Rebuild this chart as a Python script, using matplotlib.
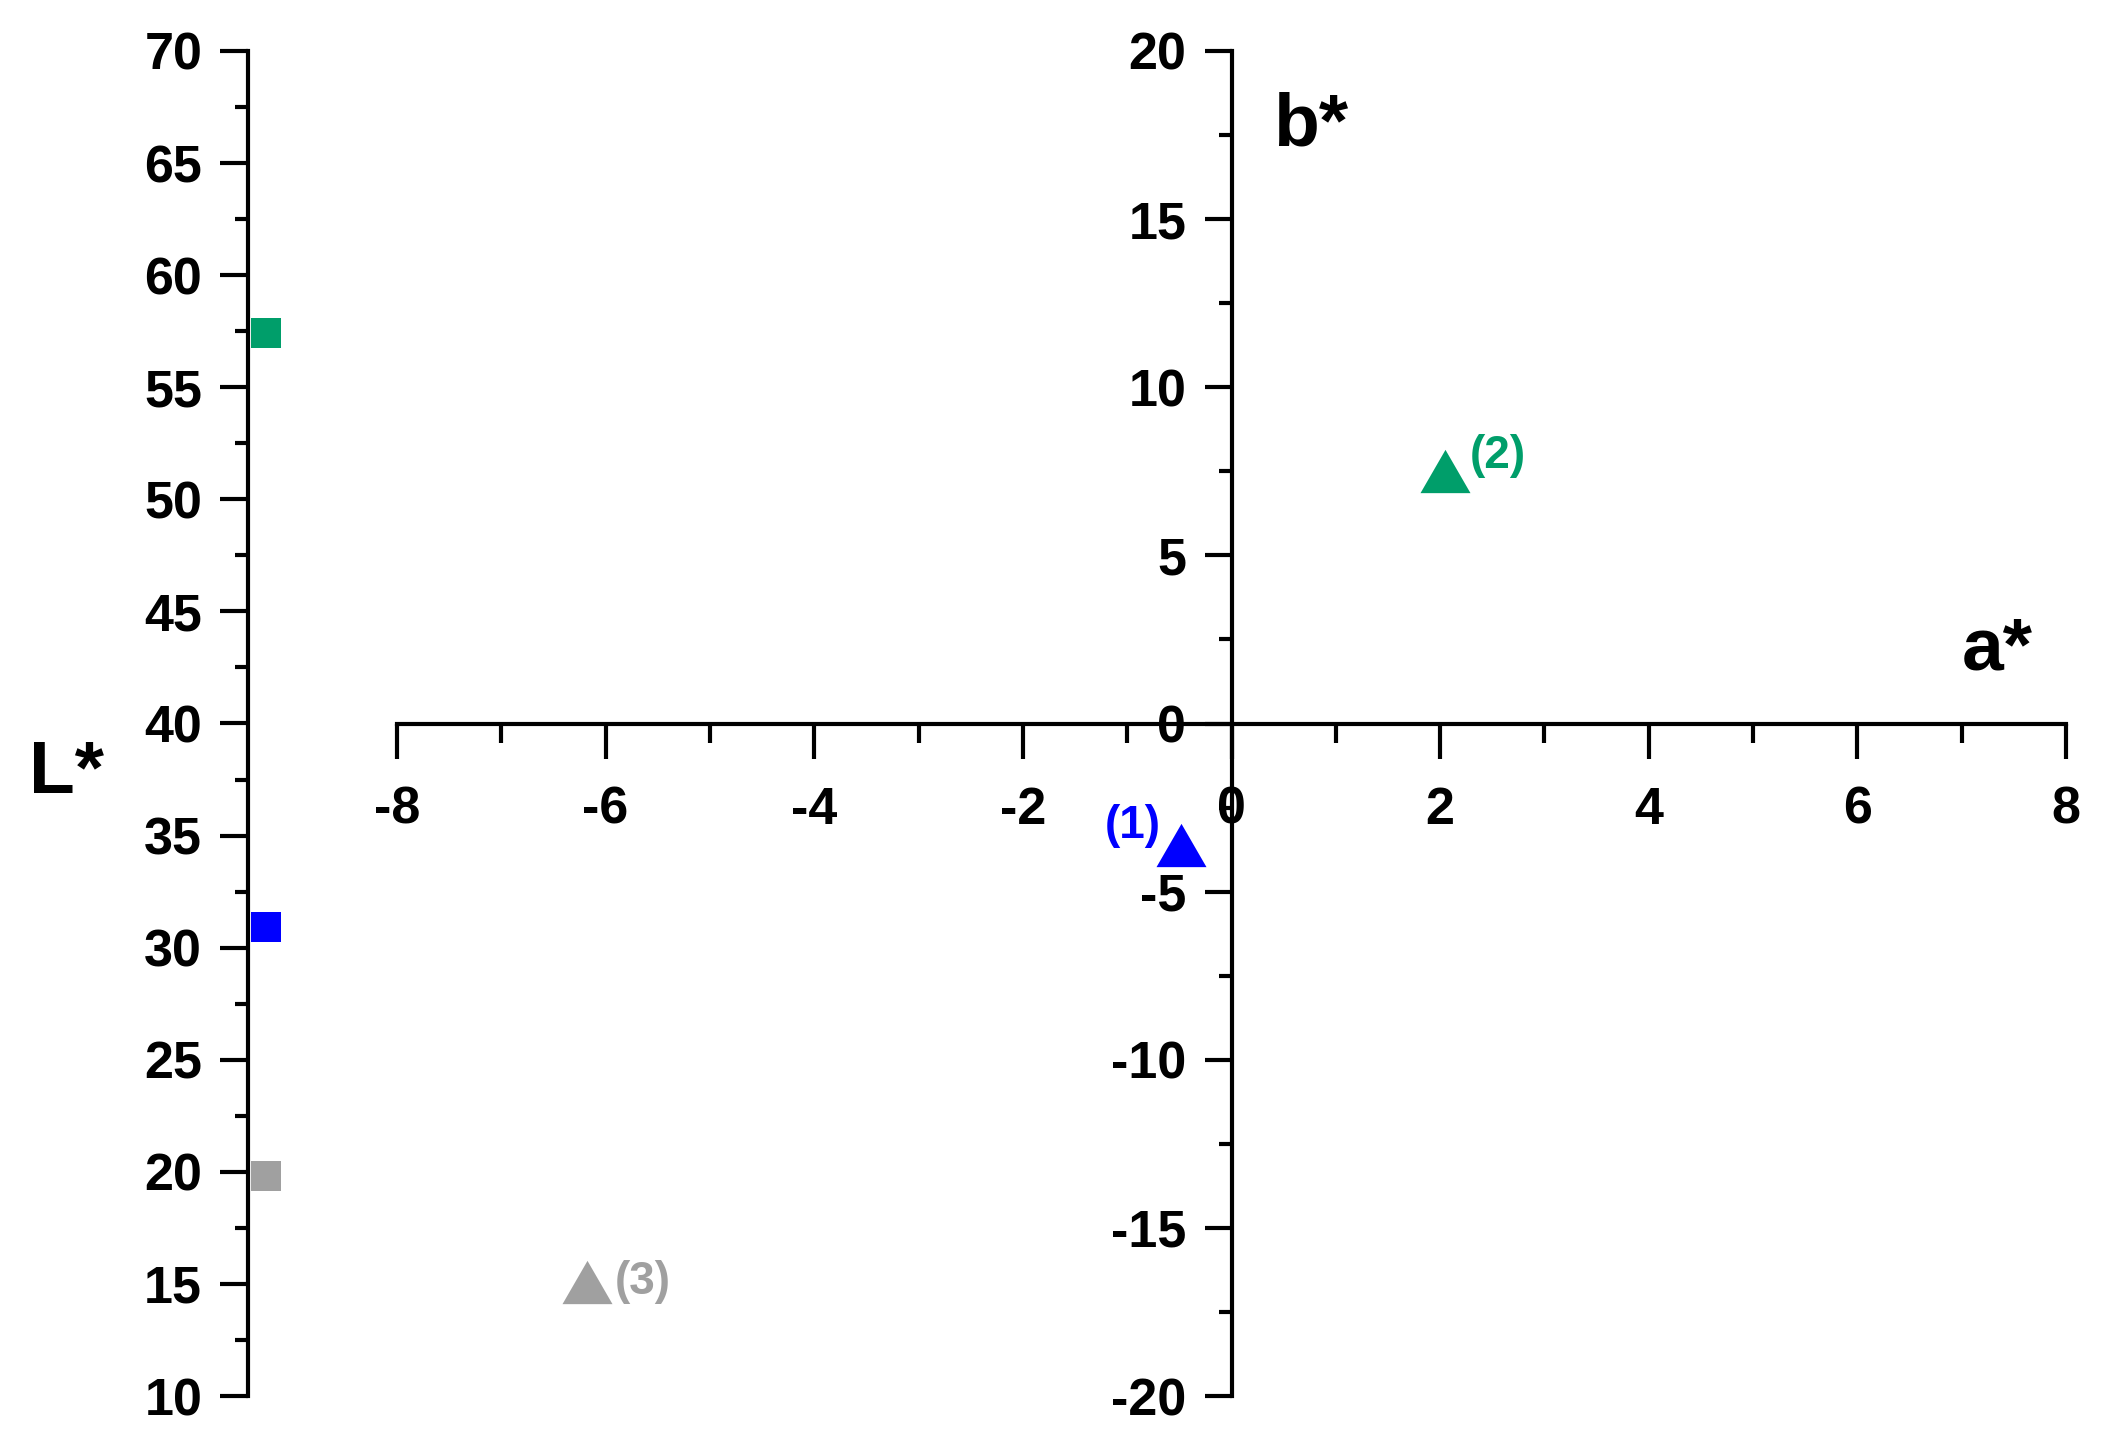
import numpy as np
import matplotlib
matplotlib.use('Agg')
import matplotlib.pyplot as plt
from matplotlib.ticker import MultipleLocator

plt.rcParams.update({'font.family': ['Liberation Sans', 'DejaVu Sans'],
                     'font.weight': 'bold',
                     'axes.unicode_minus': False})

# CIELAB values for the three samples
sample_labels = ['(1)', '(2)', '(3)']
sample_colors = ['#0000FF', '#009E6A', '#A0A0A0']
L_values = [30.9, 57.4, 19.8]
a_values = [-0.48, 2.05, -6.18]
b_values = [-3.6, 7.5, -16.6]

W, H, DPI = 2102, 1444, 100
fig = plt.figure(figsize=(W / DPI, H / DPI), dpi=DPI)

def px_axes(x0, y0, x1, y1):
    # pixel box (top-left origin) -> figure fraction
    return [x0 / W, 1 - y1 / H, (x1 - x0) / W, (y1 - y0) / H]

lw = 3.0
tri = [(-0.5, -0.433), (0.5, -0.433), (0, 0.433)]

# ---- L* strip ----
axL = fig.add_axes(px_axes(248, 51, 308, 1396))
for s in ['top', 'right', 'bottom']:
    axL.spines[s].set_visible(False)
axL.spines['left'].set_linewidth(lw)
axL.set_xlim(0, 1)
axL.set_ylim(10, 70)
axL.set_xticks([])
axL.yaxis.set_major_locator(MultipleLocator(5))
axL.yaxis.set_minor_locator(MultipleLocator(2.5))
axL.tick_params(axis='y', which='major', direction='out', length=20, width=lw,
                labelsize=37.5, pad=13)
axL.tick_params(axis='y', which='minor', direction='out', length=9.5, width=lw)
for L, c in zip(L_values, sample_colors):
    axL.plot(0.3, L, 's', color=c, ms=21, mew=0, clip_on=False)
fig.text(67 / W, 1 - 773 / H, 'L*', fontsize=54, ha='center', va='center')

# ---- a*b* plane ----
ax = fig.add_axes(px_axes(397, 51, 2066, 1396))
ax.set_xlim(-8, 8)
ax.set_ylim(-20, 20)
ax.spines['top'].set_visible(False)
ax.spines['right'].set_visible(False)
ax.spines['left'].set_position(('data', 0))
ax.spines['bottom'].set_position(('data', 0))
ax.spines['left'].set_linewidth(lw)
ax.spines['bottom'].set_linewidth(lw)
ax.xaxis.set_major_locator(MultipleLocator(2))
ax.xaxis.set_minor_locator(MultipleLocator(1))
ax.yaxis.set_major_locator(MultipleLocator(5))
ax.yaxis.set_minor_locator(MultipleLocator(2.5))
ax.tick_params(axis='x', which='major', direction='out', length=25, width=lw,
               labelsize=37.5, pad=20)
ax.tick_params(axis='x', which='minor', direction='out', length=14, width=lw)
ax.tick_params(axis='y', which='major', direction='out', length=19.5, width=lw,
               labelsize=37.5, pad=13)
ax.tick_params(axis='y', which='minor', direction='out', length=9.5, width=lw)

offsets = [(-35, 13), (38, 11), (40, 0)]
for a, b, c, lab, off in zip(a_values, b_values, sample_colors, sample_labels, offsets):
    ax.plot(a, b, marker=tri, color=c, ms=36, mew=0, linestyle='none', clip_on=False)
    ax.annotate(lab, (a, b), xytext=off, textcoords='offset points', color=c,
                fontsize=33, ha='center', va='center')

ax.text(0.4, 17.2, 'b*', fontsize=54, ha='left', va='baseline')
ax.text(7.0, 1.6, 'a*', fontsize=54, ha='left', va='baseline')

fig.savefig('out.png', dpi=DPI)
